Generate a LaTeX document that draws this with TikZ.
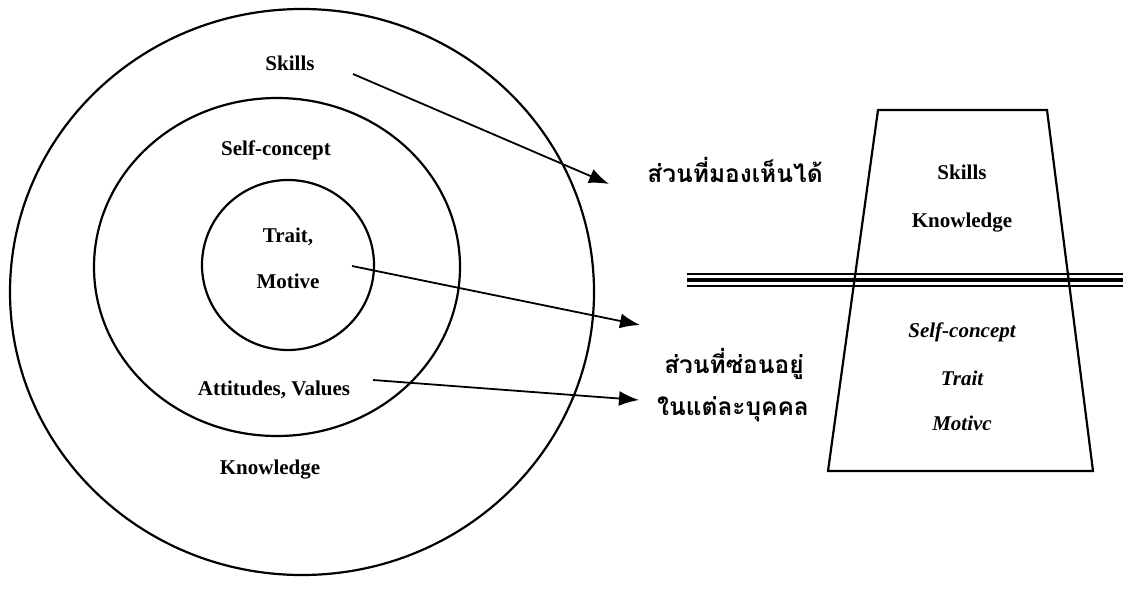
\documentclass[tikz,border=0pt]{standalone}
\usepackage{fontspec}
\setmainfont{Liberation Serif}
\newfontfamily\thaifont[Script=Thai]{Loma}
\usetikzlibrary{arrows.meta}

\begin{document}
\begin{tikzpicture}[x=1pt,y=-1pt,line width=2.2pt,
    lbl/.style={font=\fontsize{21}{24}\selectfont\bfseries},
    ilbl/.style={font=\fontsize{21}{24}\selectfont\bfseries\itshape},
    thai/.style={font=\thaifont\fontsize{24.5}{28}\selectfont\bfseries},
    pointer/.style={-{Latex[length=20pt,width=15pt]},line width=1.8pt}]
          \useasboundingbox (0,0) rectangle (1123,589);
          % circles
          \draw (302,292) ellipse [x radius=292, y radius=283];
          \draw (277,267) ellipse [x radius=183, y radius=169];
          \draw (288,265) ellipse [x radius=86, y radius=85];
          \node[lbl] (skills) at (290,63) {Skills};
          \node[lbl] (self) at (276,150) {Self-concept};
          \node[lbl] (trait) at (288,237) {Trait,};
          \node[lbl] (motive) at (288,281) {Motive};
          \node[lbl] (attitude) at (274,390) {Attitudes, Values};
          \node[lbl] (know) at (270,470) {Knowledge};
          % thai labels
          \node[thai] (seen) at (735,170) {ส่วนที่มองเห็นได้};
          \node[thai] (hidden) at (734,364) {ส่วนที่ซ่อนอยู่};
          \node[thai] (person) at (733,409) {ในแต่ละบุคคล};
          % arrows
          \coordinate (s0) at (353,74);
          \coordinate (s1) at (609,184);
          \coordinate (m0) at (352,266);
          \coordinate (m1) at (640,325);
          \coordinate (a0) at (373,380);
          \coordinate (a1) at (639,400);
          \draw[pointer] (s0) -- (s1);
          \draw[pointer] (m0) -- (m1);
          \draw[pointer] (a0) -- (a1);
          % iceberg
          \coordinate (tl) at (878,110);
          \coordinate (tr) at (1047,110);
          \coordinate (br) at (1093,471);
          \coordinate (bl) at (828,471);
          \draw (tl) -- (tr) -- (br) -- (bl) -- cycle;
          \coordinate (w) at (687,280);
          \coordinate (e) at (1123,280);
          \draw[line width=1.6pt] ([yshift=-6pt]w) -- ([yshift=-6pt]e);
          \draw[line width=3.6pt] (w) -- (e);
          \draw[line width=1.6pt] ([yshift=6pt]w) -- ([yshift=6pt]e);
          \node[lbl] (tskills) at (962,172) {Skills};
          \node[lbl] (tknow) at (962,223) {Knowledge};
          \node[ilbl] (tself) at (962,332) {Self-concept};
          \node[ilbl] (ttrait) at (962,378) {Trait};
          \node[ilbl] (tmotive) at (962,423) {Motivc};
        \end{tikzpicture}
\end{document}
